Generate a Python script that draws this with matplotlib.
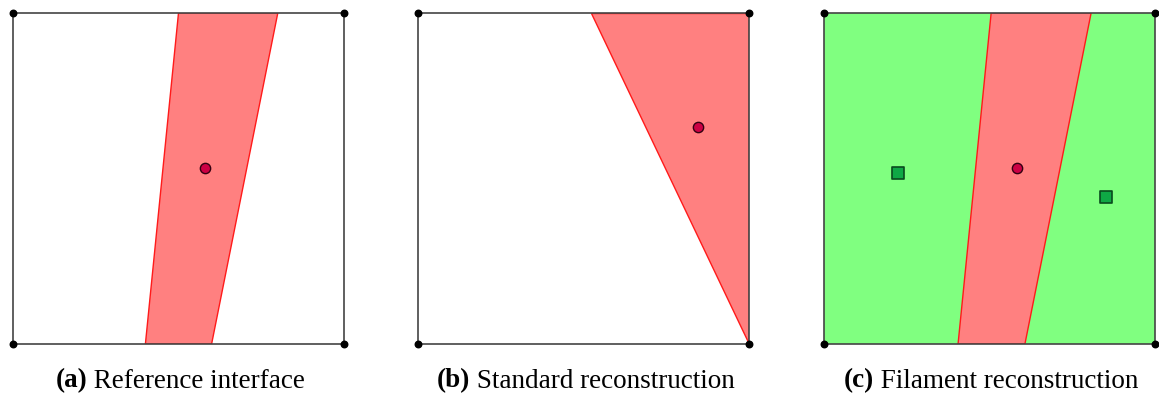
import matplotlib
matplotlib.use("Agg")
import matplotlib.pyplot as plt
from matplotlib.patches import Polygon
from matplotlib.offsetbox import TextArea, HPacker, AnchoredOffsetbox

# ---- data (unit-square coordinates) ----
square = [(0, 0), (1, 0), (1, 1), (0, 1)]
band_a = [(0.4, 0.0), (0.6, 0.0), (0.8, 1.0), (0.5, 1.0)]
centroid_a = (0.58, 0.533)
tri_b = [(1.0, 0.0), (1.0, 1.0), (0.524, 1.0)]
centroid_b = (0.845, 0.657)
band_c = [(0.405, 0.0), (0.607, 0.0), (0.807, 1.0), (0.505, 1.0)]
centroid_c = (0.582, 0.533)
green_pts_x = [0.224, 0.852]
green_pts_y = [0.517, 0.444]
caption_tags = ["(a)", "(b)", "(c)"]
caption_texts = ["Reference interface", "Standard reconstruction", "Filament reconstruction"]

W, H = 1159, 394
fig = plt.figure(figsize=(W / 100, H / 100), dpi=100)

panel_left_px = [13, 418, 824]
panel_size_px = 331
top_px = 13

RED_FILL = "#ff8080"
RED_EDGE = "#ff1a1a"
GREEN_FILL = "#80ff80"

axes = []
for lp in panel_left_px:
    ax = fig.add_axes([lp / W, (H - top_px - panel_size_px) / H, panel_size_px / W, panel_size_px / H])
    ax.set_xlim(0, 1)
    ax.set_ylim(0, 1)
    ax.axis("off")
    axes.append(ax)

def draw_square(ax, fill=None):
    if fill:
        ax.add_patch(Polygon(square, closed=True, facecolor=fill, edgecolor="none", zorder=1))
    ax.add_patch(Polygon(square, closed=True, facecolor="none", edgecolor="#444444", lw=1.2, zorder=4, clip_on=False))
    xs, ys = zip(*square)
    ax.scatter(xs, ys, s=22, color="black", zorder=6, clip_on=False)

def draw_centroid(ax, c):
    ax.scatter([c[0]], [c[1]], s=55, marker="o", facecolor="#cc0044", edgecolor="#330011", lw=1.0, zorder=7)

# (a)
ax = axes[0]
ax.add_patch(Polygon(band_a, closed=True, facecolor=RED_FILL, edgecolor=RED_EDGE, lw=1.0, zorder=2))
draw_square(ax)
draw_centroid(ax, centroid_a)

# (b)
ax = axes[1]
ax.add_patch(Polygon(tri_b, closed=True, facecolor=RED_FILL, edgecolor=RED_EDGE, lw=1.0, zorder=2))
draw_square(ax)
draw_centroid(ax, centroid_b)

# (c)
ax = axes[2]
ax.add_patch(Polygon(band_c, closed=True, facecolor=RED_FILL, edgecolor=RED_EDGE, lw=1.0, zorder=2))
draw_square(ax, fill=GREEN_FILL)
draw_centroid(ax, centroid_c)
ax.scatter(green_pts_x, green_pts_y, s=75, marker="s", facecolor="#0fa845", edgecolor="#0a4a1e", lw=1.2, zorder=7)

# captions
for lp, tag, txt in zip(panel_left_px, caption_tags, caption_texts):
    t1 = TextArea(tag, textprops=dict(family="Liberation Serif", weight="bold", size=19.5))
    t2 = TextArea(" " + txt, textprops=dict(family="Liberation Serif", size=19.5))
    box = HPacker(children=[t1, t2], align="baseline", pad=0, sep=0)
    cx = (lp + panel_size_px / 2 + 2) / W
    cy = (H - 381) / H
    anchored = AnchoredOffsetbox(loc="center", child=box, pad=0, frameon=False,
                                 bbox_to_anchor=(cx, cy), bbox_transform=fig.transFigure, borderpad=0)
    fig.add_artist(anchored)

fig.savefig("out.png", dpi=100)
